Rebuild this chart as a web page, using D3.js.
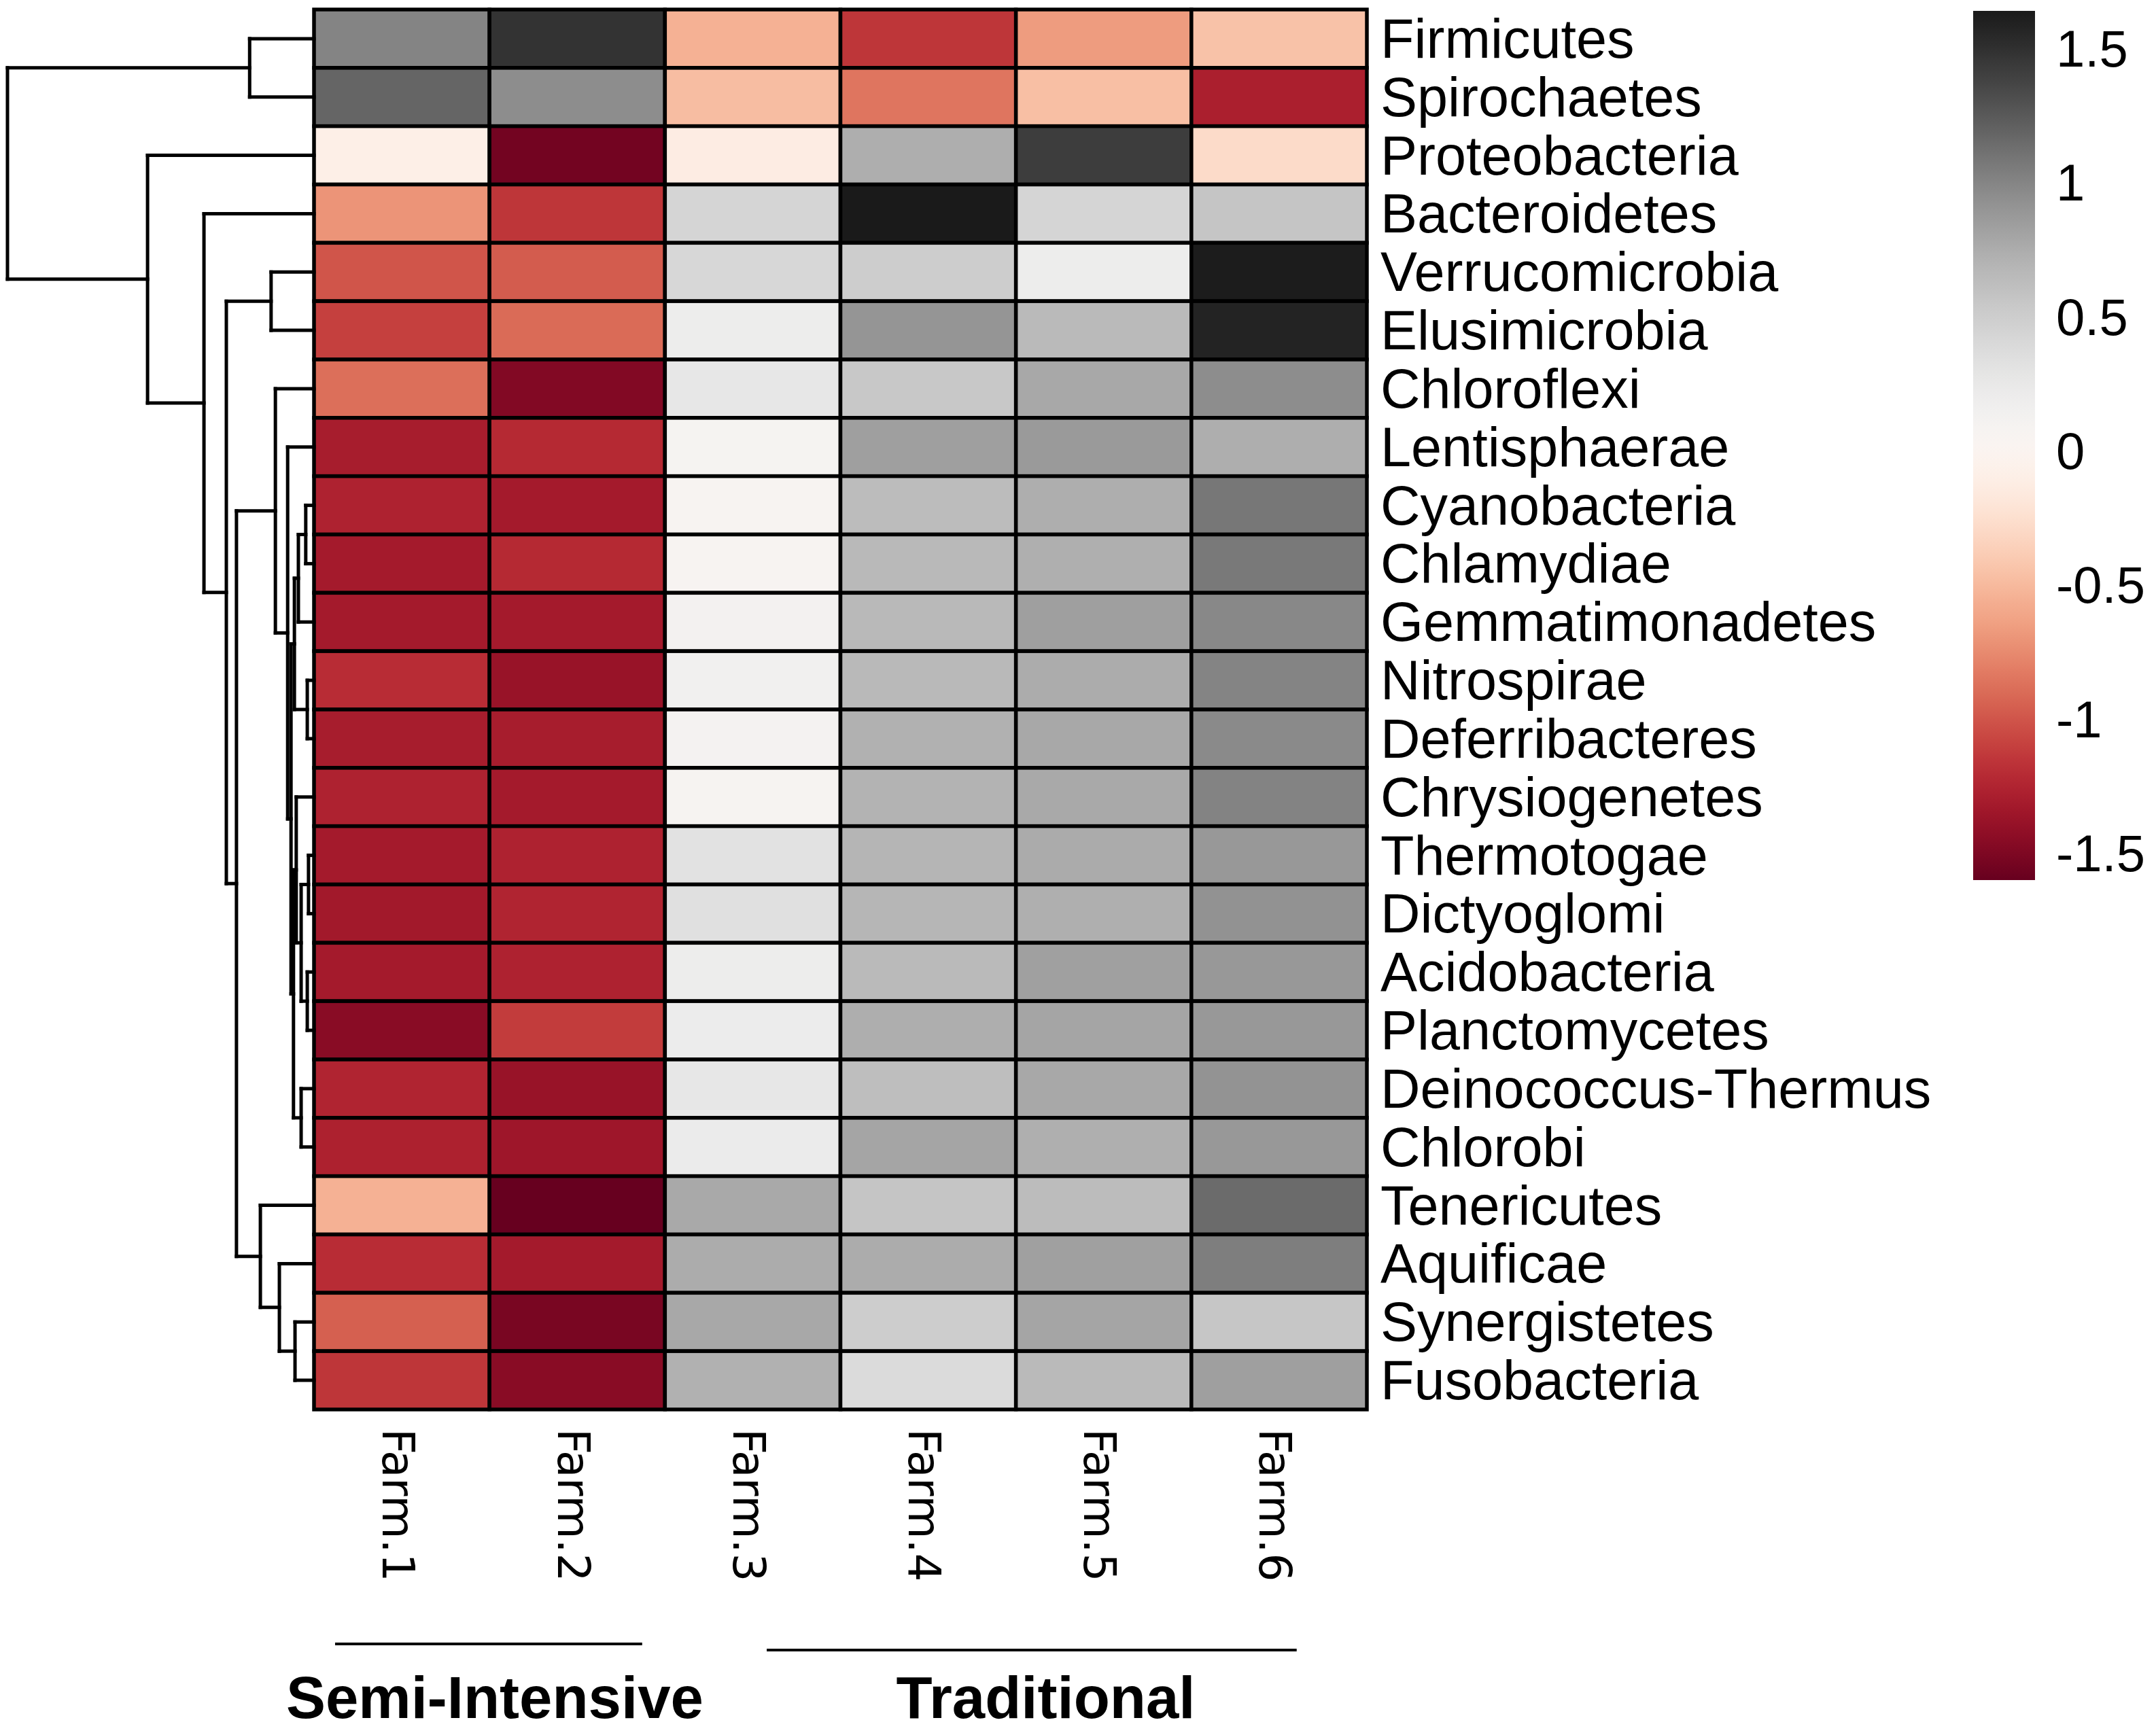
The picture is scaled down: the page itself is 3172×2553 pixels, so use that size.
<!DOCTYPE html>
<html>
<head>
<meta charset="utf-8">
<script src="https://cdn.jsdelivr.net/npm/d3@7"></script>
<style>
  html, body { margin: 0; padding: 0; background: #fff; }
  svg { display: block; }
</style>
</head>
<body>
<div id="chart"></div>
<script>
// rows of the heatmap, top to bottom (already in dendrogram order)
const rowNames = [
  "Firmicutes", "Spirochaetes", "Proteobacteria", "Bacteroidetes",
  "Verrucomicrobia", "Elusimicrobia", "Chloroflexi", "Lentisphaerae",
  "Cyanobacteria", "Chlamydiae", "Gemmatimonadetes", "Nitrospirae",
  "Deferribacteres", "Chrysiogenetes", "Thermotogae", "Dictyoglomi",
  "Acidobacteria", "Planctomycetes", "Deinococcus-Thermus", "Chlorobi",
  "Tenericutes", "Aquificae", "Synergistetes", "Fusobacteria"
];

const colNames = ["Farm.1", "Farm.2", "Farm.3", "Farm.4", "Farm.5", "Farm.6"];

// z-scores, one array per row
const values = [
  [ 1.00,  1.48, -0.55, -1.15, -0.66, -0.45],
  [ 1.18,  0.95, -0.48, -0.85, -0.47, -1.28],
  [-0.10, -1.55, -0.13,  0.74,  1.42, -0.28],
  [-0.70, -1.15,  0.43,  1.64,  0.43,  0.57],
  [-1.00, -0.97,  0.42,  0.50,  0.20,  1.63],
  [-1.10, -0.90,  0.20,  0.90,  0.65,  1.58],
  [-0.88, -1.48,  0.26,  0.54,  0.78,  0.95],
  [-1.30, -1.22,  0.10,  0.84,  0.87,  0.74],
  [-1.26, -1.32,  0.07,  0.64,  0.74,  1.08],
  [-1.32, -1.22,  0.07,  0.66,  0.73,  1.07],
  [-1.32, -1.32,  0.13,  0.66,  0.84,  0.98],
  [-1.20, -1.38,  0.15,  0.66,  0.75,  1.00],
  [-1.30, -1.30,  0.11,  0.72,  0.78,  0.97],
  [-1.26, -1.32,  0.09,  0.70,  0.77,  1.01],
  [-1.32, -1.26,  0.31,  0.69,  0.76,  0.88],
  [-1.33, -1.25,  0.33,  0.68,  0.73,  0.92],
  [-1.32, -1.26,  0.20,  0.65,  0.83,  0.88],
  [-1.45, -1.12,  0.21,  0.74,  0.80,  0.88],
  [-1.25, -1.38,  0.26,  0.62,  0.78,  0.91],
  [-1.27, -1.35,  0.22,  0.80,  0.73,  0.88],
  [-0.55, -1.60,  0.77,  0.57,  0.64,  1.15],
  [-1.20, -1.32,  0.75,  0.75,  0.83,  1.04],
  [-0.95, -1.52,  0.78,  0.50,  0.80,  0.56],
  [-1.15, -1.45,  0.72,  0.38,  0.65,  0.84]
];

// row clustering, hclust style: [left, right, height]
// a string is a leaf, a number points to an earlier merge
const rowMerges = [
  ["Firmicutes", "Spirochaetes", 2.10],          // 0
  ["Verrucomicrobia", "Elusimicrobia", 1.40],    // 1
  ["Cyanobacteria", "Chlamydiae", 0.27],         // 2
  [2, "Gemmatimonadetes", 0.51],                 // 3
  ["Nitrospirae", "Deferribacteres", 0.22],      // 4
  [3, 4, 0.64],                                  // 5
  ["Thermotogae", "Dictyoglomi", 0.18],          // 6
  ["Acidobacteria", "Planctomycetes", 0.22],     // 7
  [6, 7, 0.42],                                  // 8
  ["Chrysiogenetes", 8, 0.58],                   // 9
  ["Deinococcus-Thermus", "Chlorobi", 0.42],     // 10
  [9, 10, 0.67],                                 // 11
  [5, 11, 0.75],                                 // 12
  ["Lentisphaerae", 12, 0.86],                   // 13
  ["Chloroflexi", 13, 1.26],                     // 14
  ["Synergistetes", "Fusobacteria", 0.62],       // 15
  ["Aquificae", 15, 1.13],                       // 16
  ["Tenericutes", 16, 1.75],                     // 17
  [14, 17, 2.53],                                // 18
  [1, 18, 2.86],                                 // 19
  ["Bacteroidetes", 19, 3.59],                   // 20
  ["Proteobacteria", 20, 5.43],                  // 21
  [0, 21, 10.0]                                  // 22
];

const legendTicks = [1.5, 1, 0.5, 0, -0.5, -1, -1.5];

// sample groups under the columns (in column units)
const groupNames = ["Semi-Intensive", "Traditional"];
const groupStart = [0.12, 2.58];
const groupEnd = [1.87, 5.60];
const groupLabelAt = [1.03, 4.17];

// ---- layout ----
const width = 3172;
const height = 2553;
const heat = { left: 462, right: 2011, top: 14, bottom: 2074 };

const svg = d3.select("#chart").append("svg")
  .attr("width", width)
  .attr("height", height)
  .style("background", "#fff");

const x = d3.scaleBand().domain(colNames).range([heat.left, heat.right]);
const y = d3.scaleBand().domain(rowNames).range([heat.top, heat.bottom]);

const extent = d3.extent(values.flat());
const color = d3.scaleSequential(d3.interpolateRdGy).domain(extent);

// ---- cells ----
const cells = [];
values.forEach((row, i) => row.forEach((v, j) => cells.push({ r: rowNames[i], c: colNames[j], v })));

svg.append("g")
  .selectAll("rect")
  .data(cells)
  .join("rect")
  .attr("x", d => x(d.c))
  .attr("y", d => y(d.r))
  .attr("width", x.bandwidth())
  .attr("height", y.bandwidth())
  .attr("fill", d => color(d.v))
  .attr("stroke", "#000")
  .attr("stroke-width", 5.5);

// ---- row labels ----
svg.append("g")
  .selectAll("text")
  .data(rowNames)
  .join("text")
  .attr("x", heat.right + 20)
  .attr("y", d => y(d) + y.bandwidth() / 2)
  .attr("dominant-baseline", "central")
  .style("font", "81px 'Liberation Sans', Arial, sans-serif")
  .attr("fill", "#000")
  .text(d => d);

// ---- column labels (rotated) ----
svg.append("g")
  .selectAll("text")
  .data(colNames)
  .join("text")
  .attr("transform", d => `translate(${x(d) + x.bandwidth() / 2 - 6},${heat.bottom + 28}) rotate(90)`)
  .attr("dominant-baseline", "central")
  .style("font", "66px 'DejaVu Sans', Verdana, sans-serif")
  .attr("fill", "#000")
  .text(d => d);

// ---- row dendrogram ----
const dx = d3.scaleLinear().domain([0, 10]).range([heat.left, 11]);
const leafY = name => y(name) + y.bandwidth() / 2;

const nodes = [];
rowMerges.forEach(([a, b, h]) => {
  const kids = [a, b].map(k => typeof k === "number" ? nodes[k] : { h: 0, y: leafY(k) });
  nodes.push({ h, y: d3.mean(kids, k => k.y), kids });
});

const segs = [];
nodes.forEach(n => {
  segs.push([dx(n.h), n.kids[0].y, dx(n.h), n.kids[1].y]);
  n.kids.forEach(k => segs.push([dx(n.h), k.y, dx(k.h), k.y]));
});

svg.append("g")
  .attr("stroke", "#000")
  .attr("stroke-width", 5)
  .attr("stroke-linecap", "square")
  .selectAll("line")
  .data(segs)
  .join("line")
  .attr("x1", d => d[0])
  .attr("y1", d => d[1])
  .attr("x2", d => d[2])
  .attr("y2", d => d[3]);

// ---- colour key ----
const key = { left: 2903, width: 91, top: 16, bottom: 1295 };
const ky = d3.scaleLinear().domain(extent).range([key.bottom, key.top]);

const grad = svg.append("defs").append("linearGradient")
  .attr("id", "keygrad")
  .attr("x1", 0).attr("y1", 1).attr("x2", 0).attr("y2", 0);

grad.selectAll("stop")
  .data(d3.range(0, 1.0001, 0.02))
  .join("stop")
  .attr("offset", t => t)
  .attr("stop-color", t => color(extent[0] + t * (extent[1] - extent[0])));

svg.append("rect")
  .attr("x", key.left)
  .attr("y", key.top)
  .attr("width", key.width)
  .attr("height", key.bottom - key.top)
  .attr("fill", "url(#keygrad)");

svg.append("g")
  .selectAll("text")
  .data(legendTicks)
  .join("text")
  .attr("x", 3025)
  .attr("y", d => ky(d))
  .attr("dominant-baseline", "central")
  .style("font", "76px 'Liberation Sans', Arial, sans-serif")
  .attr("fill", "#000")
  .text(d => String(d));

// ---- sample groups ----
const gx = d3.scaleLinear().domain([0, colNames.length]).range([heat.left, heat.right]);
const groups = groupNames.map((name, i) => ({ name, s: groupStart[i], e: groupEnd[i], at: groupLabelAt[i] }));

svg.append("g")
  .selectAll("line")
  .data(groups)
  .join("line")
  .attr("x1", d => gx(d.s))
  .attr("x2", d => gx(d.e))
  .attr("y1", (d, i) => 2419 + i * 9)
  .attr("y2", (d, i) => 2419 + i * 9)
  .attr("stroke", "#000")
  .attr("stroke-width", 4);

svg.append("g")
  .selectAll("text")
  .data(groups)
  .join("text")
  .attr("x", d => gx(d.at))
  .attr("y", 2528)
  .attr("text-anchor", "middle")
  .style("font", "bold 87px 'Liberation Sans', Arial, sans-serif")
  .attr("fill", "#000")
  .text(d => d.name);
</script>
</body>
</html>
